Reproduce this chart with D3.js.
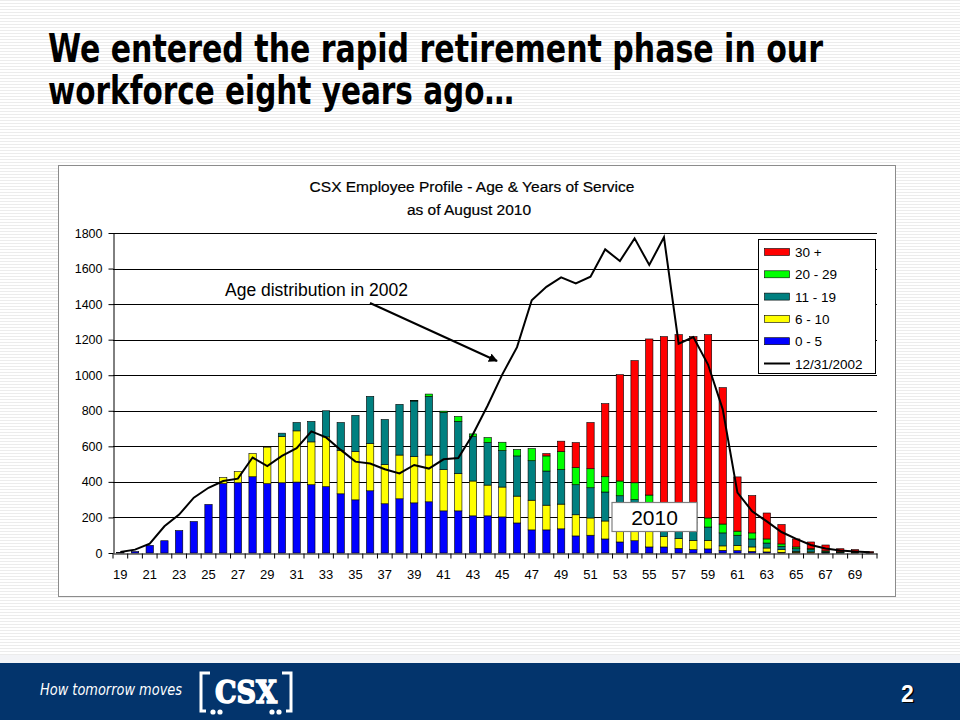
<!DOCTYPE html>
<html>
<head>
<meta charset="utf-8">
<script src="https://cdn.jsdelivr.net/npm/d3@7"></script>
<style>
  body { margin: 0; background: #fff; }
  svg { display: block; }
</style>
</head>
<body>
<svg id="slide" width="960" height="720"></svg>
<script>
// ages on the x axis
const ages = [19,20,21,22,23,24,25,26,27,28,29,30,31,32,33,34,35,36,37,38,39,40,41,42,43,44,
  45,46,47,48,49,50,51,52,53,54,55,56,57,58,59,60,61,62,63,64,65,66,67,68,69,70];

// headcount by years of service, August 2010
const service0to5 = [3,8,43,69,126,177,273,391,395,429,390,395,399,384,373,333,299,350,277,305,282,288,237,237,209,209,
  203,169,130,130,136,96,100,79,62,69,34,34,26,19,23,15,13,9,6,4,3,2,1,1,0,0];
const service6to10 = [0,0,0,0,0,0,0,33,63,130,205,260,288,241,280,245,272,266,220,246,260,263,232,209,196,173,
  168,151,167,139,139,119,97,101,108,86,91,60,55,52,48,25,30,25,22,15,6,4,2,1,1,1];
const service11to19 = [0,0,0,0,0,0,0,0,0,0,0,19,47,115,147,156,203,265,254,285,313,330,322,294,250,239,
  205,226,222,192,194,169,170,163,152,145,130,106,109,99,75,73,57,45,28,19,15,13,5,3,2,1];
const service20to29 = [0,0,0,0,0,0,0,0,0,0,0,0,0,0,0,0,0,0,0,0,3,13,7,28,15,28,
  47,36,68,85,101,96,107,86,83,95,71,65,55,60,51,50,23,34,23,13,10,5,4,2,2,1];
const service30plus = [0,0,0,0,0,0,0,0,0,0,0,0,0,0,0,0,0,0,0,0,0,0,0,0,0,0,
  0,0,0,13,59,141,260,411,598,687,878,952,983,987,1031,767,305,210,146,109,45,38,33,17,14,5];

// age distribution at 12/31/2002
const profile2002 = [6,19,53,150,216,311,367,405,418,537,489,546,590,684,650,580,514,503,471,448,495,475,527,534,668,830,
  1005,1158,1422,1497,1550,1516,1554,1708,1642,1770,1620,1776,1177,1215,1060,808,340,235,178,118,79,45,25,14,9,4];

const yTicks = [0,200,400,600,800,1000,1200,1400,1600,1800];
const xTickLabels = [19,21,23,25,27,29,31,33,35,37,39,41,43,45,47,49,51,53,55,57,59,61,63,65,67,69];

const seriesKeys = ["s0to5","s6to10","s11to19","s20to29","s30plus"];
const seriesNames = {s0to5:"0 - 5", s6to10:"6 - 10", s11to19:"11 - 19", s20to29:"20 - 29", s30plus:"30 +"};
const seriesColors = {s0to5:"#0000ff", s6to10:"#ffff00", s11to19:"#008080", s20to29:"#00ff00", s30plus:"#ff0000"};

const rows = ages.map((a, i) => ({
  age: a,
  s0to5: service0to5[i],
  s6to10: service6to10[i],
  s11to19: service11to19[i],
  s20to29: service20to29[i],
  s30plus: service30plus[i],
  y2002: profile2002[i]
}));

const svg = d3.select("#slide");
const font = "Arial, 'Liberation Sans', sans-serif";

// striped slide background
const defs = svg.append("defs");
const pat = defs.append("pattern")
  .attr("id", "stripes").attr("width", 6).attr("height", 3)
  .attr("patternUnits", "userSpaceOnUse");
pat.append("rect").attr("width", 6).attr("height", 3).attr("fill", "#ffffff");
pat.append("rect").attr("width", 6).attr("height", 1).attr("fill", "#ececec");
defs.append("marker")
  .attr("id", "arrow").attr("viewBox", "0 0 10 10")
  .attr("refX", 9).attr("refY", 5)
  .attr("markerWidth", 9).attr("markerHeight", 9)
  .attr("markerUnits", "userSpaceOnUse")
  .attr("orient", "auto")
  .append("path").attr("d", "M0,0 L10,5 L0,10 z").attr("fill", "#000");

svg.append("rect").attr("width", 960).attr("height", 663).attr("fill", "url(#stripes)");

// slide heading
const heading = svg.append("g")
  .attr("font-family", "'DejaVu Sans Condensed', 'Liberation Sans Narrow', sans-serif")
  .attr("font-weight", "bold").attr("font-size", 39).attr("fill", "#000");
heading.append("text").attr("x", 48).attr("y", 62)
  .attr("textLength", 775).attr("lengthAdjust", "spacingAndGlyphs")
  .text("We entered the rapid retirement phase in our");
heading.append("text").attr("x", 48).attr("y", 104)
  .attr("textLength", 466).attr("lengthAdjust", "spacingAndGlyphs")
  .text("workforce eight years ago\u2026");

// chart frame
svg.append("rect")
  .attr("x", 58.5).attr("y", 165.5).attr("width", 837).attr("height", 431)
  .attr("fill", "#fff").attr("stroke", "#8c8c8c");

svg.append("text")
  .attr("x", 472).attr("y", 192).attr("text-anchor", "middle")
  .attr("font-family", font).attr("font-size", 15.5)
  .attr("stroke", "#000").attr("stroke-width", 0.2)
  .text("CSX Employee Profile - Age & Years of Service");
svg.append("text")
  .attr("x", 469).attr("y", 215).attr("text-anchor", "middle")
  .attr("font-family", font).attr("font-size", 15.5)
  .attr("stroke", "#000").attr("stroke-width", 0.2)
  .text("as of August 2010");

const plot = { left: 113, right: 877, top: 233, bottom: 553 };

const x = d3.scaleBand()
  .domain(ages)
  .range([plot.left, plot.right])
  .paddingInner(0.5)
  .paddingOuter(0.25);

const y = d3.scaleLinear()
  .domain([0, 1800])
  .range([plot.bottom, plot.top]);

// gridlines
svg.append("g")
  .selectAll("line")
  .data(yTicks.slice(1))
  .join("line")
  .attr("x1", plot.left).attr("x2", plot.right)
  .attr("y1", d => Math.round(y(d)) + 0.5).attr("y2", d => Math.round(y(d)) + 0.5)
  .attr("stroke", "#000").attr("stroke-width", 1);

// stacked bars
const stack = d3.stack().keys(seriesKeys)(rows);
svg.append("g")
  .selectAll("g")
  .data(stack)
  .join("g")
  .attr("fill", d => seriesColors[d.key])
  .selectAll("rect")
  .data(d => d.filter(s => s[1] - s[0] > 0))
  .join("rect")
  .attr("x", d => x(d.data.age))
  .attr("width", x.bandwidth())
  .attr("y", d => y(d[1]))
  .attr("height", d => y(d[0]) - y(d[1]))
  .attr("stroke", "#000").attr("stroke-width", 0.6);

// 2002 line
const line = d3.line()
  .x(d => x(d.age) + x.bandwidth() / 2)
  .y(d => y(d.y2002));
svg.append("path")
  .datum(rows)
  .attr("d", line)
  .attr("fill", "none").attr("stroke", "#000").attr("stroke-width", 2);

// y axis
const yAxis = svg.append("g")
  .attr("transform", `translate(${plot.left + 0.5},0)`)
  .call(d3.axisLeft(y).tickValues(yTicks).tickFormat(d3.format("d"))
    .tickSize(5).tickPadding(6).tickSizeOuter(0));
yAxis.selectAll("text").attr("font-family", font).attr("font-size", 12.5).attr("fill", "#000");
yAxis.selectAll("line, path").attr("stroke", "#000");

// x axis: labels on odd ages, ticks between categories
const xAxis = svg.append("g")
  .attr("transform", `translate(0,${plot.bottom + 0.5})`)
  .call(d3.axisBottom(x).tickSize(0).tickPadding(16).tickSizeOuter(0)
    .tickFormat(d => xTickLabels.includes(d) ? d : ""));
xAxis.selectAll("text").attr("font-family", font).attr("font-size", 13).attr("fill", "#000");
xAxis.select(".domain").attr("stroke", "#000");
const half = (x.step() - x.bandwidth()) / 2;
xAxis.append("g")
  .selectAll("line")
  .data(ages.concat([null]))
  .join("line")
  .attr("x1", d => d === null ? plot.right : x(d) - half)
  .attr("x2", d => d === null ? plot.right : x(d) - half)
  .attr("y1", 0).attr("y2", 5)
  .attr("stroke", "#000");

// annotation
svg.append("text")
  .attr("x", 225).attr("y", 296)
  .attr("font-family", font).attr("font-size", 17.5)
  .text("Age distribution in 2002");
svg.append("line")
  .attr("x1", 370).attr("y1", 303).attr("x2", 497).attr("y2", 361)
  .attr("stroke", "#000").attr("stroke-width", 2)
  .attr("marker-end", "url(#arrow)");

// 2010 label box
svg.append("rect")
  .attr("x", 612).attr("y", 502.5).attr("width", 85).attr("height", 29)
  .attr("fill", "#fff").attr("stroke", "#808080").attr("stroke-width", 1.2);
svg.append("text")
  .attr("x", 654.5).attr("y", 525).attr("text-anchor", "middle")
  .attr("font-family", font).attr("font-size", 21)
  .text("2010");

// legend
const legendItems = ["s30plus","s20to29","s11to19","s6to10","s0to5"];
const legend = svg.append("g").attr("font-family", font).attr("font-size", 13.5);
legend.append("rect")
  .attr("x", 758.5).attr("y", 239.5).attr("width", 117).attr("height", 134)
  .attr("fill", "#fff").attr("stroke", "#000");
legendItems.forEach((k, i) => {
  const cy = 252 + i * 22.3;
  legend.append("rect")
    .attr("x", 764.5).attr("y", cy - 3.5).attr("width", 25).attr("height", 7)
    .attr("fill", seriesColors[k]).attr("stroke", "#000").attr("stroke-width", 0.6);
  legend.append("text").attr("x", 795).attr("y", cy + 5).text(seriesNames[k]);
});
legend.append("line")
  .attr("x1", 764).attr("x2", 790).attr("y1", 363.5).attr("y2", 363.5)
  .attr("stroke", "#000").attr("stroke-width", 2);
legend.append("text").attr("x", 795).attr("y", 368.5).text("12/31/2002");

// footer band
svg.append("rect").attr("x", 0).attr("y", 655).attr("width", 960).attr("height", 8).attr("fill", "#f3f4f7");
svg.append("rect").attr("x", 0).attr("y", 663).attr("width", 960).attr("height", 57).attr("fill", "#03346c");
svg.append("text")
  .attr("x", 40).attr("y", 695)
  .attr("font-family", "'DejaVu Sans Condensed', sans-serif")
  .attr("font-style", "italic").attr("font-size", 15).attr("fill", "#fff")
  .attr("textLength", 142).attr("lengthAdjust", "spacingAndGlyphs")
  .text("How tomorrow moves");

// CSX logo
const logo = svg.append("g").attr("fill", "none").attr("stroke", "#fff").attr("stroke-width", 3);
logo.append("path").attr("d", "M210,673 H201 V711 H206");
logo.append("path").attr("d", "M282,673 H291 V711 H286");
svg.append("text")
  .attr("x", 246).attr("y", 703).attr("text-anchor", "middle")
  .attr("font-family", "'DejaVu Serif', serif").attr("font-weight", "bold")
  .attr("font-size", 32).attr("textLength", 62).attr("lengthAdjust", "spacingAndGlyphs")
  .attr("fill", "#fff").attr("stroke", "#fff").attr("stroke-width", 1.6)
  .text("CSX");
svg.append("g").attr("fill", "#fff")
  .selectAll("circle")
  .data([[213, 712], [220, 712], [272, 712], [279, 712]])
  .join("circle")
  .attr("cx", d => d[0]).attr("cy", d => d[1]).attr("r", 2.6);

// page number
svg.append("text")
  .attr("x", 909).attr("y", 703).attr("text-anchor", "middle")
  .attr("font-family", font).attr("font-weight", "bold").attr("font-size", 23)
  .attr("fill", "#000").text("2");
svg.append("text")
  .attr("x", 907.5).attr("y", 701.5).attr("text-anchor", "middle")
  .attr("font-family", font).attr("font-weight", "bold").attr("font-size", 23)
  .attr("fill", "#fff").text("2");
</script>
</body>
</html>
